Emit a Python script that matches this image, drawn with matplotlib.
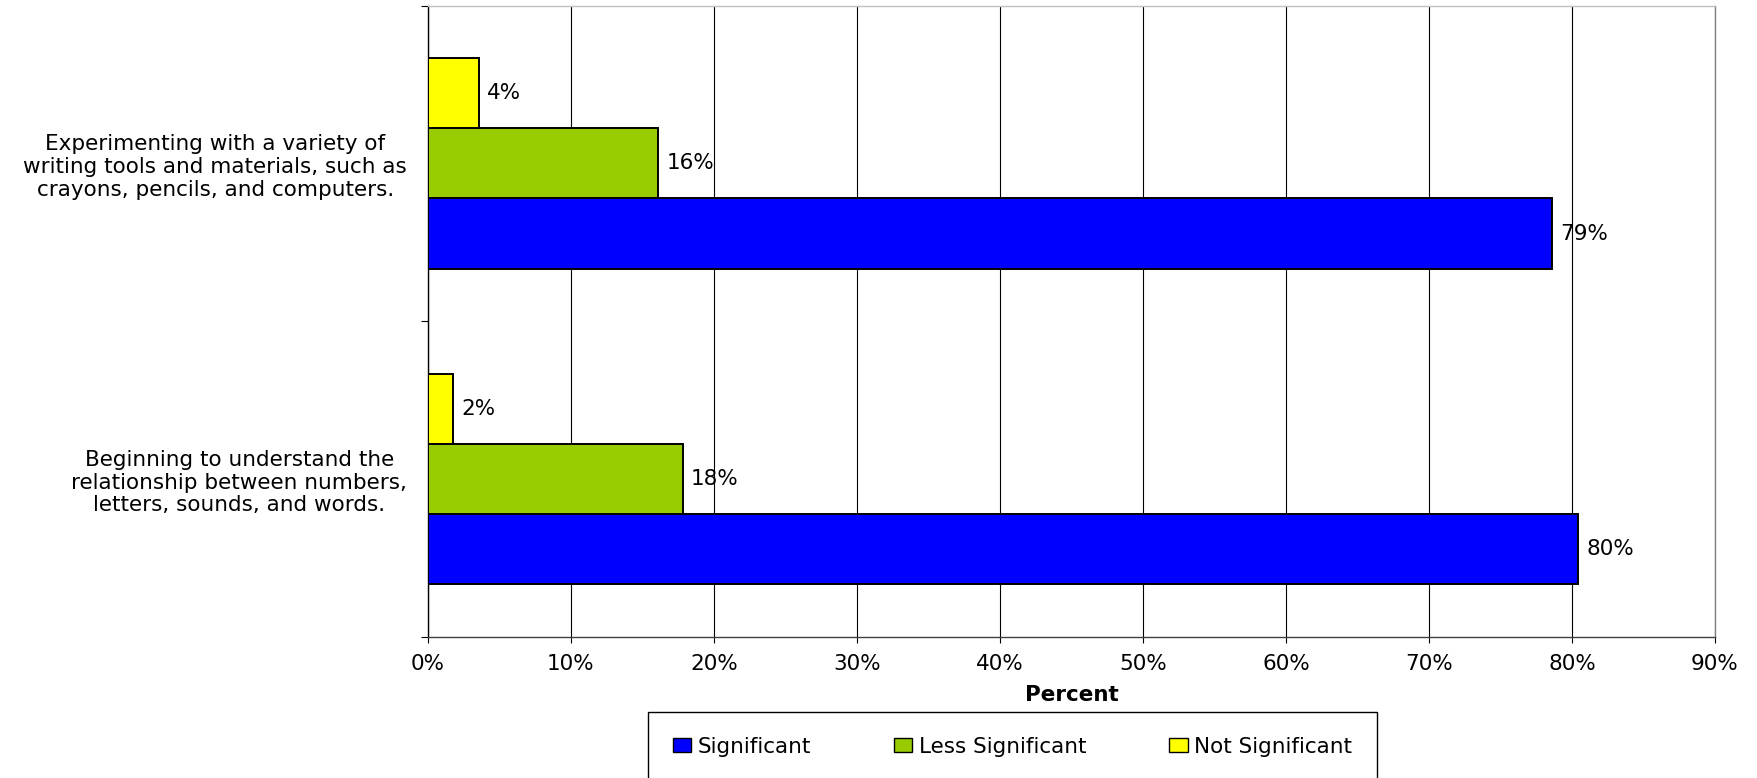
import matplotlib
matplotlib.use("Agg")
import numpy as np
import matplotlib.pyplot as plt
from matplotlib.patches import Patch

# ---- data ----
categories = [
    "Beginning to understand the\nrelationship between numbers,\nletters, sounds, and words.",
    "Experimenting with a variety of\nwriting tools and materials, such as\ncrayons, pencils, and computers.",
]
significant = [80.4, 78.6]
less_significant = [17.8, 16.1]
not_significant = [1.75, 3.56]
series_names = ["Significant", "Less Significant", "Not Significant"]
series_colors = ["#0000FF", "#99CC00", "#FFFF00"]
x_ticks = list(range(0, 91, 10))
x_tick_labels = [f"{v}%" for v in x_ticks]
x_label = "Percent"

plt.rcParams['font.family'] = ['DejaVu Sans']
FS = 15.5
W, H = 1758, 778

fig = plt.figure(figsize=(W / 100, H / 100), dpi=100)
ax = fig.add_axes([428 / W, 1 - 637 / H, (1715 - 428) / W, (637 - 5.6) / H])

y = np.arange(len(categories))
h = 0.222
offsets = [-h, 0.0, h]
for vals, col, name, off in zip([significant, less_significant, not_significant],
                                series_colors, series_names, offsets):
    bars = ax.barh(y + off, vals, height=h, color=col, edgecolor='black',
                   linewidth=1.4, zorder=3, label=name)
    ax.bar_label(bars, labels=[f"{round(v)}%" for v in vals], padding=6,
                 fontsize=FS, color='black')

ax.set_xlim(0, 90)
ax.set_ylim(-0.5, len(categories) - 0.5)
ax.set_xticks(x_ticks)
ax.set_xticklabels(x_tick_labels, fontsize=FS)
ax.tick_params(axis='x', direction='out', length=4.5, width=0.8, pad=8, colors='black')
ax.xaxis.grid(True, color='black', linewidth=0.8)
ax.set_axisbelow(True)

ax.set_yticks(np.arange(-0.5, len(categories), 1.0))
ax.tick_params(axis='y', which='major', length=5, width=0.8, direction='out', labelleft=False)
ax.set_yticks(y, minor=True)
ax.set_yticklabels(categories, minor=True, fontsize=FS, ha='right',
                   multialignment='center', linespacing=1.18)
ax.tick_params(axis='y', which='minor', length=0, pad=15)

ax.set_xlabel(x_label, fontsize=FS, fontweight='bold', labelpad=8)

ax.spines['top'].set_color('#c0c0c0')
ax.spines['right'].set_color('#808080')
ax.spines['left'].set_color('black')
ax.spines['bottom'].set_color('#404040')
for s in ax.spines.values():
    s.set_linewidth(1.0)

handles = [Patch(facecolor=c, edgecolor='black', linewidth=1.0, label=n)
           for c, n in zip(series_colors, series_names)]
leg = fig.legend(handles=handles, loc='upper left',
                 bbox_to_anchor=(648 / W, 0, 729 / W, 1 - 712 / H),
                 mode='expand', ncol=3, fontsize=FS, frameon=True, fancybox=False,
                 edgecolor='black', framealpha=1, borderpad=1.15,
                 handlelength=0.85, handleheight=0.6, handletextpad=0.3,
                 borderaxespad=0)
leg.get_frame().set_linewidth(1.0)

fig.savefig("out.png", dpi=100)
